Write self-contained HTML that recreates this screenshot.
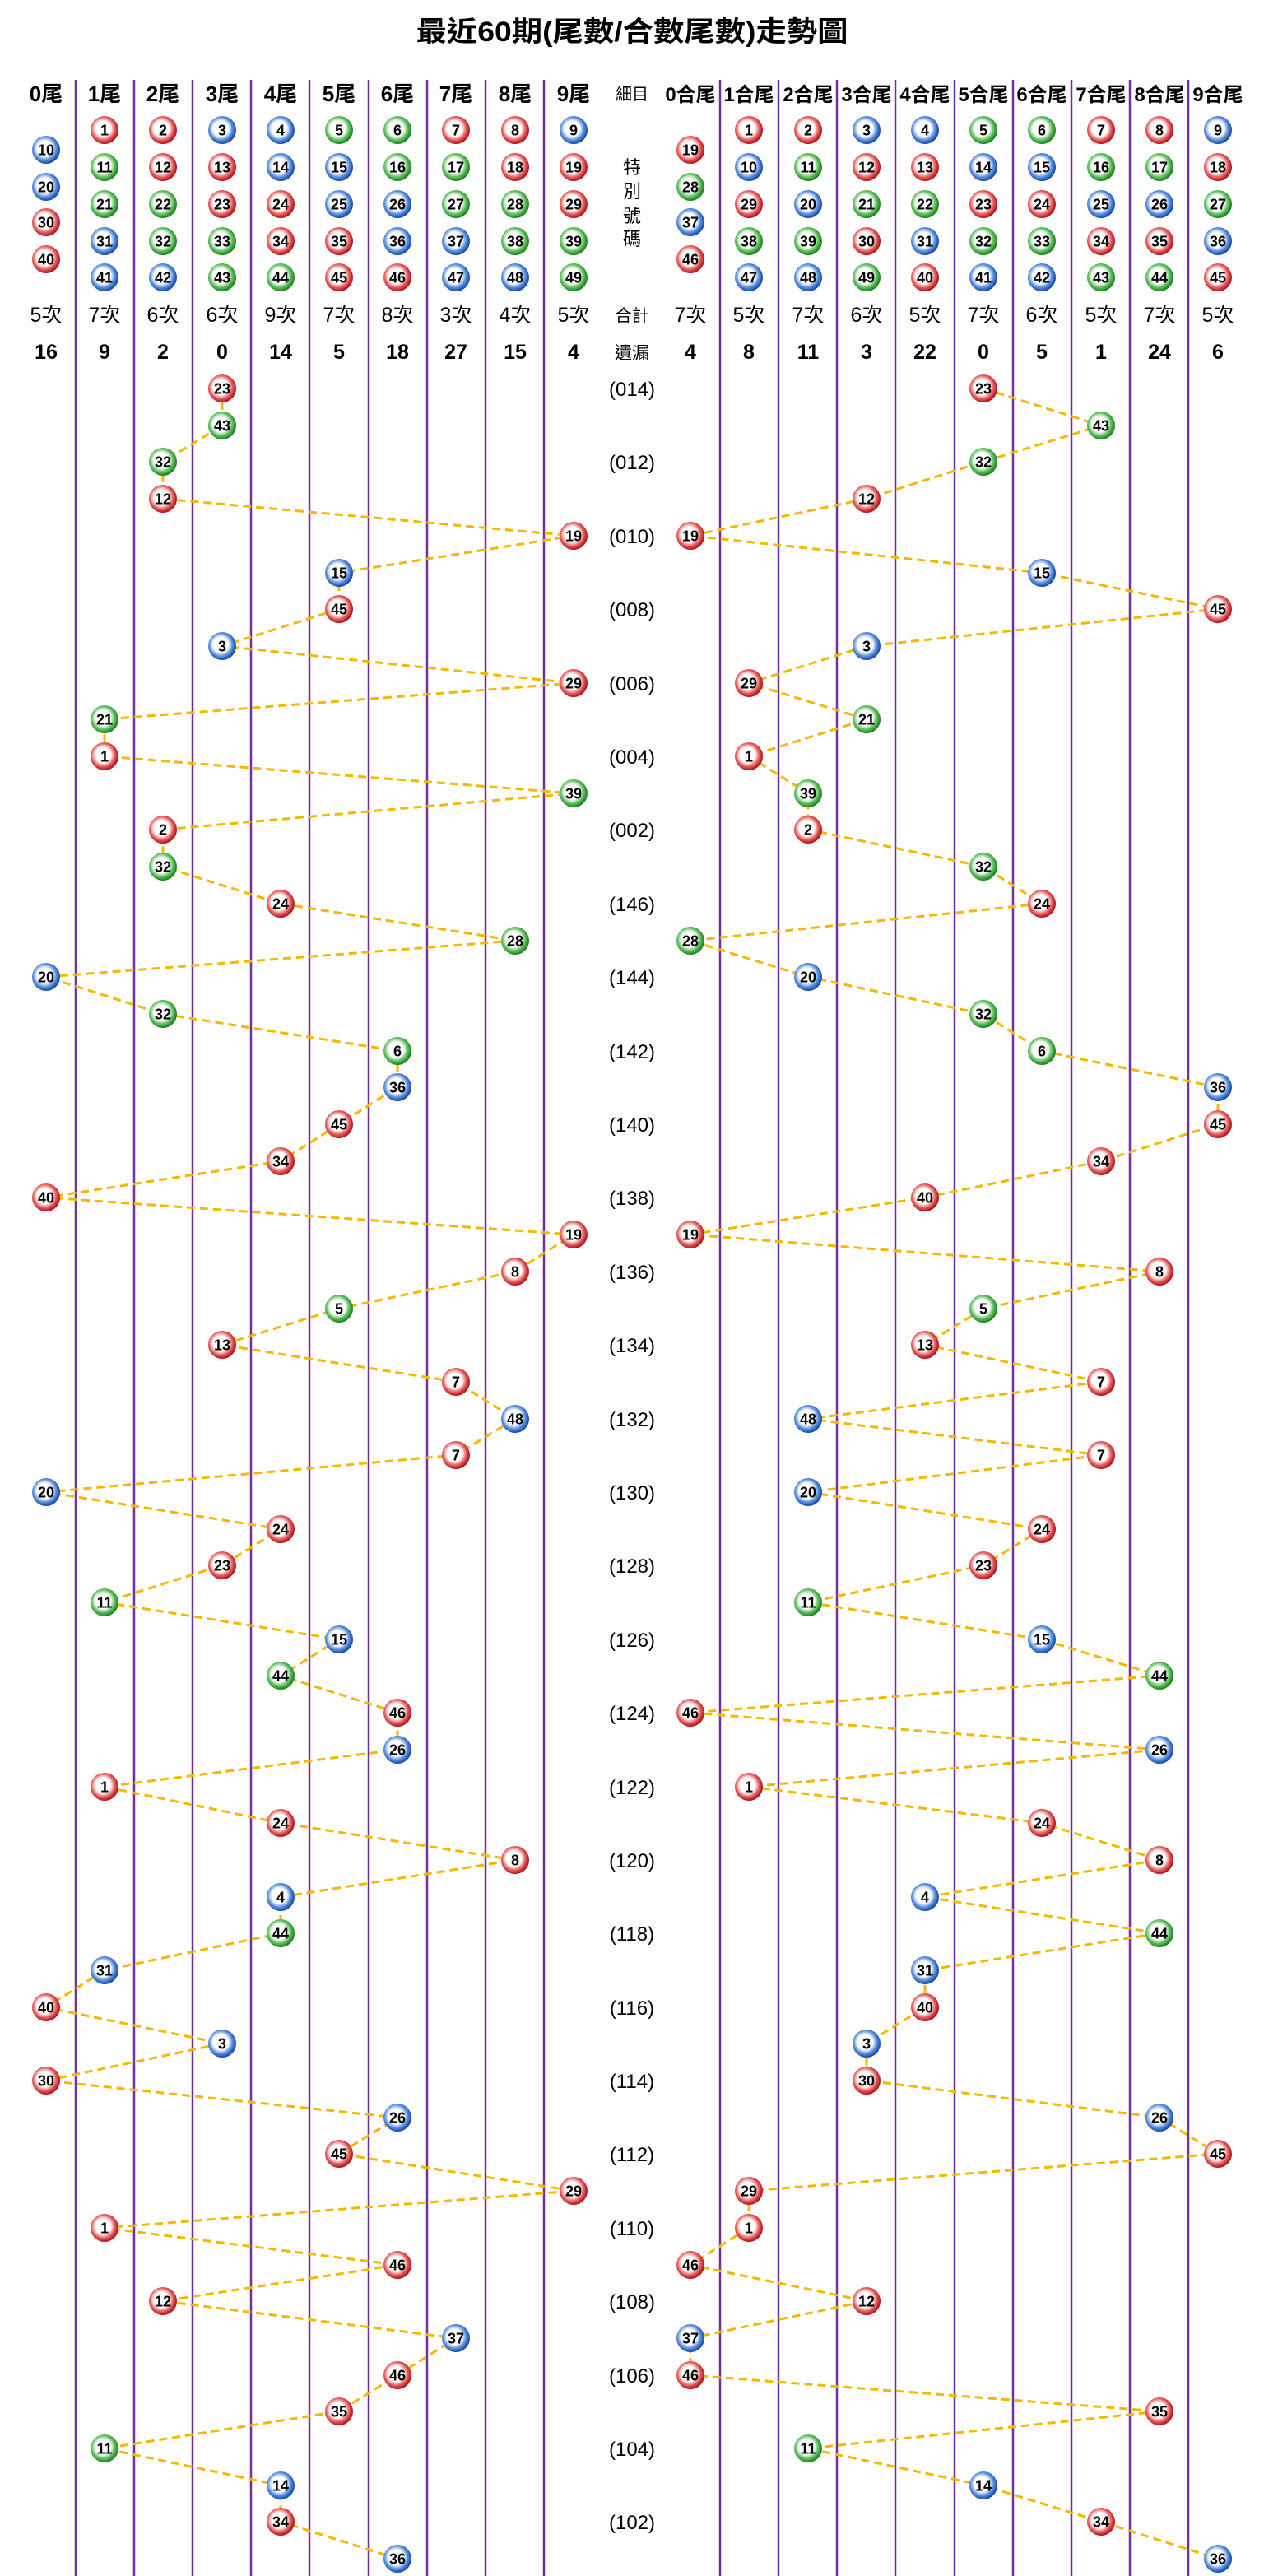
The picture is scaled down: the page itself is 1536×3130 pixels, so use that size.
<!DOCTYPE html>
<html><head><meta charset="utf-8"><style>
html,body{margin:0;padding:0;background:#fff}
svg{display:block}
.b text{font:bold 18px "Liberation Sans Narrow","Liberation Sans",sans-serif;text-anchor:middle;fill:#000}
.t{font-family:"Liberation Sans","Noto Sans CJK TC",sans-serif;text-anchor:middle;fill:#000}
</style></head><body>
<svg width="1536" height="3130" viewBox="0 0 1536 3130" xmlns="http://www.w3.org/2000/svg">
<defs>
<radialGradient id="R" cx="45%" cy="45%" r="55%"><stop offset="0" stop-color="#fff"/><stop offset="0.5" stop-color="#fff"/><stop offset="0.75" stop-color="#e86060"/><stop offset="1" stop-color="#b01018"/></radialGradient>
<radialGradient id="B" cx="45%" cy="45%" r="55%"><stop offset="0" stop-color="#fff"/><stop offset="0.5" stop-color="#fff"/><stop offset="0.75" stop-color="#5a90e0"/><stop offset="1" stop-color="#1548a8"/></radialGradient>
<radialGradient id="G" cx="45%" cy="45%" r="55%"><stop offset="0" stop-color="#fff"/><stop offset="0.5" stop-color="#fff"/><stop offset="0.75" stop-color="#60c060"/><stop offset="1" stop-color="#1a801a"/></radialGradient>
</defs>
<rect width="1536" height="3130" fill="#fff"/>
<g stroke="#7030a0" stroke-width="2.5">
<line x1="92" y1="97" x2="92" y2="3130"/><line x1="163" y1="97" x2="163" y2="3130"/><line x1="234" y1="97" x2="234" y2="3130"/><line x1="305" y1="97" x2="305" y2="3130"/><line x1="376" y1="97" x2="376" y2="3130"/><line x1="448" y1="97" x2="448" y2="3130"/><line x1="519" y1="97" x2="519" y2="3130"/><line x1="590" y1="97" x2="590" y2="3130"/><line x1="661" y1="97" x2="661" y2="3130"/>
<line x1="875" y1="97" x2="875" y2="3130"/><line x1="946" y1="97" x2="946" y2="3130"/><line x1="1017" y1="97" x2="1017" y2="3130"/><line x1="1088" y1="97" x2="1088" y2="3130"/><line x1="1160" y1="97" x2="1160" y2="3130"/><line x1="1231" y1="97" x2="1231" y2="3130"/><line x1="1302" y1="97" x2="1302" y2="3130"/><line x1="1373" y1="97" x2="1373" y2="3130"/><line x1="1444" y1="97" x2="1444" y2="3130"/>
</g>
<text class="t" x="768" y="50" font-size="34" font-weight="bold" textLength="525" lengthAdjust="spacingAndGlyphs">最近60期(尾數/合數尾數)走勢圖</text>
<g transform="translate(0 123)" font-weight="bold">
<text class="t" x="56" font-size="26">0尾</text><text class="t" x="127" font-size="26">1尾</text><text class="t" x="198" font-size="26">2尾</text><text class="t" x="270" font-size="26">3尾</text><text class="t" x="341" font-size="26">4尾</text><text class="t" x="412" font-size="26">5尾</text><text class="t" x="483" font-size="26">6尾</text><text class="t" x="554" font-size="26">7尾</text><text class="t" x="626" font-size="26">8尾</text><text class="t" x="697" font-size="26">9尾</text>
<text class="t" x="768" y="-2" font-size="20" font-weight="normal">細目</text>
<text class="t" x="839" font-size="24">0合尾</text><text class="t" x="910" font-size="24">1合尾</text><text class="t" x="982" font-size="24">2合尾</text><text class="t" x="1053" font-size="24">3合尾</text><text class="t" x="1124" font-size="24">4合尾</text><text class="t" x="1195" font-size="24">5合尾</text><text class="t" x="1266" font-size="24">6合尾</text><text class="t" x="1338" font-size="24">7合尾</text><text class="t" x="1409" font-size="24">8合尾</text><text class="t" x="1480" font-size="24">9合尾</text>
</g>
<g font-size="22"><text class="t" x="768" y="211">特</text><text class="t" x="768" y="240">別</text><text class="t" x="768" y="270">號</text><text class="t" x="768" y="298">碼</text></g>
<g transform="translate(0 391)" font-size="25">
<text class="t" x="56">5次</text><text class="t" x="127">7次</text><text class="t" x="198">6次</text><text class="t" x="270">6次</text><text class="t" x="341">9次</text><text class="t" x="412">7次</text><text class="t" x="483">8次</text><text class="t" x="554">3次</text><text class="t" x="626">4次</text><text class="t" x="697">5次</text>
<text class="t" x="768" font-size="21">合計</text>
<text class="t" x="839">7次</text><text class="t" x="910">5次</text><text class="t" x="982">7次</text><text class="t" x="1053">6次</text><text class="t" x="1124">5次</text><text class="t" x="1195">7次</text><text class="t" x="1266">6次</text><text class="t" x="1338">5次</text><text class="t" x="1409">7次</text><text class="t" x="1480">5次</text>
</g>
<g transform="translate(0 436)" font-size="25" font-weight="bold">
<text class="t" x="56">16</text><text class="t" x="127">9</text><text class="t" x="198">2</text><text class="t" x="270">0</text><text class="t" x="341">14</text><text class="t" x="412">5</text><text class="t" x="483">18</text><text class="t" x="554">27</text><text class="t" x="626">15</text><text class="t" x="697">4</text>
<text class="t" x="768" font-size="21" font-weight="normal">遺漏</text>
<text class="t" x="839">4</text><text class="t" x="910">8</text><text class="t" x="982">11</text><text class="t" x="1053">3</text><text class="t" x="1124">22</text><text class="t" x="1195">0</text><text class="t" x="1266">5</text><text class="t" x="1338">1</text><text class="t" x="1409">24</text><text class="t" x="1480">6</text>
</g>
<g font-size="24">
<text class="t" x="768" y="481">(014)</text><text class="t" x="768" y="570">(012)</text><text class="t" x="768" y="660">(010)</text><text class="t" x="768" y="749">(008)</text><text class="t" x="768" y="839">(006)</text><text class="t" x="768" y="928">(004)</text><text class="t" x="768" y="1017">(002)</text><text class="t" x="768" y="1107">(146)</text><text class="t" x="768" y="1196">(144)</text><text class="t" x="768" y="1286">(142)</text><text class="t" x="768" y="1375">(140)</text><text class="t" x="768" y="1464">(138)</text><text class="t" x="768" y="1554">(136)</text><text class="t" x="768" y="1643">(134)</text><text class="t" x="768" y="1733">(132)</text><text class="t" x="768" y="1822">(130)</text><text class="t" x="768" y="1911">(128)</text><text class="t" x="768" y="2001">(126)</text><text class="t" x="768" y="2090">(124)</text><text class="t" x="768" y="2180">(122)</text><text class="t" x="768" y="2269">(120)</text><text class="t" x="768" y="2358">(118)</text><text class="t" x="768" y="2448">(116)</text><text class="t" x="768" y="2537">(114)</text><text class="t" x="768" y="2626">(112)</text><text class="t" x="768" y="2716">(110)</text><text class="t" x="768" y="2805">(108)</text><text class="t" x="768" y="2895">(106)</text><text class="t" x="768" y="2984">(104)</text><text class="t" x="768" y="3073">(102)</text>
</g>
<g fill="none" stroke="#f5b800" stroke-width="3" stroke-dasharray="10 6">
<polyline points="270,472 270,517 198,561 198,606 697,651 412,696 412,740 270,785 697,830 127,874 127,919 697,964 198,1008 198,1053 341,1098 626,1143 56,1187 198,1232 483,1277 483,1321 412,1366 341,1411 56,1455 697,1500 626,1545 412,1590 270,1634 554,1679 626,1724 554,1768 56,1813 341,1858 270,1902 127,1947 412,1992 341,2036 483,2081 483,2126 127,2171 341,2215 626,2260 341,2305 341,2349 127,2394 56,2439 270,2483 56,2528 483,2573 412,2617 697,2662 127,2707 483,2752 198,2796 554,2841 483,2886 412,2930 127,2975 341,3020 341,3064 483,3109"/>
<polyline points="1195,472 1338,517 1195,561 1053,606 839,651 1266,696 1480,740 1053,785 910,830 1053,874 910,919 982,964 982,1008 1195,1053 1266,1098 839,1143 982,1187 1195,1232 1266,1277 1480,1321 1480,1366 1338,1411 1124,1455 839,1500 1409,1545 1195,1590 1124,1634 1338,1679 982,1724 1338,1768 982,1813 1266,1858 1195,1902 982,1947 1266,1992 1409,2036 839,2081 1409,2126 910,2171 1266,2215 1409,2260 1124,2305 1409,2349 1124,2394 1124,2439 1053,2483 1053,2528 1409,2573 1480,2617 910,2662 910,2707 839,2752 1053,2796 839,2841 839,2886 1409,2930 982,2975 1195,3020 1338,3064 1480,3109"/>
</g>
<!-- header balls left -->
<g class="b" transform="translate(56 182)"><circle r="17" fill="url(#B)"/><text y="6.5">10</text></g>
<g class="b" transform="translate(56 227)"><circle r="17" fill="url(#B)"/><text y="6.5">20</text></g>
<g class="b" transform="translate(56 270)"><circle r="17" fill="url(#R)"/><text y="6.5">30</text></g>
<g class="b" transform="translate(56 315)"><circle r="17" fill="url(#R)"/><text y="6.5">40</text></g>
<g class="b" transform="translate(127 158)"><circle r="17" fill="url(#R)"/><text y="6.5">1</text></g>
<g class="b" transform="translate(127 203)"><circle r="17" fill="url(#G)"/><text y="6.5">11</text></g>
<g class="b" transform="translate(127 248)"><circle r="17" fill="url(#G)"/><text y="6.5">21</text></g>
<g class="b" transform="translate(127 293)"><circle r="17" fill="url(#B)"/><text y="6.5">31</text></g>
<g class="b" transform="translate(127 337)"><circle r="17" fill="url(#B)"/><text y="6.5">41</text></g>
<g class="b" transform="translate(198 158)"><circle r="17" fill="url(#R)"/><text y="6.5">2</text></g>
<g class="b" transform="translate(198 203)"><circle r="17" fill="url(#R)"/><text y="6.5">12</text></g>
<g class="b" transform="translate(198 248)"><circle r="17" fill="url(#G)"/><text y="6.5">22</text></g>
<g class="b" transform="translate(198 293)"><circle r="17" fill="url(#G)"/><text y="6.5">32</text></g>
<g class="b" transform="translate(198 337)"><circle r="17" fill="url(#B)"/><text y="6.5">42</text></g>
<g class="b" transform="translate(270 158)"><circle r="17" fill="url(#B)"/><text y="6.5">3</text></g>
<g class="b" transform="translate(270 203)"><circle r="17" fill="url(#R)"/><text y="6.5">13</text></g>
<g class="b" transform="translate(270 248)"><circle r="17" fill="url(#R)"/><text y="6.5">23</text></g>
<g class="b" transform="translate(270 293)"><circle r="17" fill="url(#G)"/><text y="6.5">33</text></g>
<g class="b" transform="translate(270 337)"><circle r="17" fill="url(#G)"/><text y="6.5">43</text></g>
<g class="b" transform="translate(341 158)"><circle r="17" fill="url(#B)"/><text y="6.5">4</text></g>
<g class="b" transform="translate(341 203)"><circle r="17" fill="url(#B)"/><text y="6.5">14</text></g>
<g class="b" transform="translate(341 248)"><circle r="17" fill="url(#R)"/><text y="6.5">24</text></g>
<g class="b" transform="translate(341 293)"><circle r="17" fill="url(#R)"/><text y="6.5">34</text></g>
<g class="b" transform="translate(341 337)"><circle r="17" fill="url(#G)"/><text y="6.5">44</text></g>
<g class="b" transform="translate(412 158)"><circle r="17" fill="url(#G)"/><text y="6.5">5</text></g>
<g class="b" transform="translate(412 203)"><circle r="17" fill="url(#B)"/><text y="6.5">15</text></g>
<g class="b" transform="translate(412 248)"><circle r="17" fill="url(#B)"/><text y="6.5">25</text></g>
<g class="b" transform="translate(412 293)"><circle r="17" fill="url(#R)"/><text y="6.5">35</text></g>
<g class="b" transform="translate(412 337)"><circle r="17" fill="url(#R)"/><text y="6.5">45</text></g>
<g class="b" transform="translate(483 158)"><circle r="17" fill="url(#G)"/><text y="6.5">6</text></g>
<g class="b" transform="translate(483 203)"><circle r="17" fill="url(#G)"/><text y="6.5">16</text></g>
<g class="b" transform="translate(483 248)"><circle r="17" fill="url(#B)"/><text y="6.5">26</text></g>
<g class="b" transform="translate(483 293)"><circle r="17" fill="url(#B)"/><text y="6.5">36</text></g>
<g class="b" transform="translate(483 337)"><circle r="17" fill="url(#R)"/><text y="6.5">46</text></g>
<g class="b" transform="translate(554 158)"><circle r="17" fill="url(#R)"/><text y="6.5">7</text></g>
<g class="b" transform="translate(554 203)"><circle r="17" fill="url(#G)"/><text y="6.5">17</text></g>
<g class="b" transform="translate(554 248)"><circle r="17" fill="url(#G)"/><text y="6.5">27</text></g>
<g class="b" transform="translate(554 293)"><circle r="17" fill="url(#B)"/><text y="6.5">37</text></g>
<g class="b" transform="translate(554 337)"><circle r="17" fill="url(#B)"/><text y="6.5">47</text></g>
<g class="b" transform="translate(626 158)"><circle r="17" fill="url(#R)"/><text y="6.5">8</text></g>
<g class="b" transform="translate(626 203)"><circle r="17" fill="url(#R)"/><text y="6.5">18</text></g>
<g class="b" transform="translate(626 248)"><circle r="17" fill="url(#G)"/><text y="6.5">28</text></g>
<g class="b" transform="translate(626 293)"><circle r="17" fill="url(#G)"/><text y="6.5">38</text></g>
<g class="b" transform="translate(626 337)"><circle r="17" fill="url(#B)"/><text y="6.5">48</text></g>
<g class="b" transform="translate(697 158)"><circle r="17" fill="url(#B)"/><text y="6.5">9</text></g>
<g class="b" transform="translate(697 203)"><circle r="17" fill="url(#R)"/><text y="6.5">19</text></g>
<g class="b" transform="translate(697 248)"><circle r="17" fill="url(#R)"/><text y="6.5">29</text></g>
<g class="b" transform="translate(697 293)"><circle r="17" fill="url(#G)"/><text y="6.5">39</text></g>
<g class="b" transform="translate(697 337)"><circle r="17" fill="url(#G)"/><text y="6.5">49</text></g>
<!-- header balls right -->
<g class="b" transform="translate(839 182)"><circle r="17" fill="url(#R)"/><text y="6.5">19</text></g>
<g class="b" transform="translate(839 227)"><circle r="17" fill="url(#G)"/><text y="6.5">28</text></g>
<g class="b" transform="translate(839 270)"><circle r="17" fill="url(#B)"/><text y="6.5">37</text></g>
<g class="b" transform="translate(839 315)"><circle r="17" fill="url(#R)"/><text y="6.5">46</text></g>
<g class="b" transform="translate(910 158)"><circle r="17" fill="url(#R)"/><text y="6.5">1</text></g>
<g class="b" transform="translate(910 203)"><circle r="17" fill="url(#B)"/><text y="6.5">10</text></g>
<g class="b" transform="translate(910 248)"><circle r="17" fill="url(#R)"/><text y="6.5">29</text></g>
<g class="b" transform="translate(910 293)"><circle r="17" fill="url(#G)"/><text y="6.5">38</text></g>
<g class="b" transform="translate(910 337)"><circle r="17" fill="url(#B)"/><text y="6.5">47</text></g>
<g class="b" transform="translate(982 158)"><circle r="17" fill="url(#R)"/><text y="6.5">2</text></g>
<g class="b" transform="translate(982 203)"><circle r="17" fill="url(#G)"/><text y="6.5">11</text></g>
<g class="b" transform="translate(982 248)"><circle r="17" fill="url(#B)"/><text y="6.5">20</text></g>
<g class="b" transform="translate(982 293)"><circle r="17" fill="url(#G)"/><text y="6.5">39</text></g>
<g class="b" transform="translate(982 337)"><circle r="17" fill="url(#B)"/><text y="6.5">48</text></g>
<g class="b" transform="translate(1053 158)"><circle r="17" fill="url(#B)"/><text y="6.5">3</text></g>
<g class="b" transform="translate(1053 203)"><circle r="17" fill="url(#R)"/><text y="6.5">12</text></g>
<g class="b" transform="translate(1053 248)"><circle r="17" fill="url(#G)"/><text y="6.5">21</text></g>
<g class="b" transform="translate(1053 293)"><circle r="17" fill="url(#R)"/><text y="6.5">30</text></g>
<g class="b" transform="translate(1053 337)"><circle r="17" fill="url(#G)"/><text y="6.5">49</text></g>
<g class="b" transform="translate(1124 158)"><circle r="17" fill="url(#B)"/><text y="6.5">4</text></g>
<g class="b" transform="translate(1124 203)"><circle r="17" fill="url(#R)"/><text y="6.5">13</text></g>
<g class="b" transform="translate(1124 248)"><circle r="17" fill="url(#G)"/><text y="6.5">22</text></g>
<g class="b" transform="translate(1124 293)"><circle r="17" fill="url(#B)"/><text y="6.5">31</text></g>
<g class="b" transform="translate(1124 337)"><circle r="17" fill="url(#R)"/><text y="6.5">40</text></g>
<g class="b" transform="translate(1195 158)"><circle r="17" fill="url(#G)"/><text y="6.5">5</text></g>
<g class="b" transform="translate(1195 203)"><circle r="17" fill="url(#B)"/><text y="6.5">14</text></g>
<g class="b" transform="translate(1195 248)"><circle r="17" fill="url(#R)"/><text y="6.5">23</text></g>
<g class="b" transform="translate(1195 293)"><circle r="17" fill="url(#G)"/><text y="6.5">32</text></g>
<g class="b" transform="translate(1195 337)"><circle r="17" fill="url(#B)"/><text y="6.5">41</text></g>
<g class="b" transform="translate(1266 158)"><circle r="17" fill="url(#G)"/><text y="6.5">6</text></g>
<g class="b" transform="translate(1266 203)"><circle r="17" fill="url(#B)"/><text y="6.5">15</text></g>
<g class="b" transform="translate(1266 248)"><circle r="17" fill="url(#R)"/><text y="6.5">24</text></g>
<g class="b" transform="translate(1266 293)"><circle r="17" fill="url(#G)"/><text y="6.5">33</text></g>
<g class="b" transform="translate(1266 337)"><circle r="17" fill="url(#B)"/><text y="6.5">42</text></g>
<g class="b" transform="translate(1338 158)"><circle r="17" fill="url(#R)"/><text y="6.5">7</text></g>
<g class="b" transform="translate(1338 203)"><circle r="17" fill="url(#G)"/><text y="6.5">16</text></g>
<g class="b" transform="translate(1338 248)"><circle r="17" fill="url(#B)"/><text y="6.5">25</text></g>
<g class="b" transform="translate(1338 293)"><circle r="17" fill="url(#R)"/><text y="6.5">34</text></g>
<g class="b" transform="translate(1338 337)"><circle r="17" fill="url(#G)"/><text y="6.5">43</text></g>
<g class="b" transform="translate(1409 158)"><circle r="17" fill="url(#R)"/><text y="6.5">8</text></g>
<g class="b" transform="translate(1409 203)"><circle r="17" fill="url(#G)"/><text y="6.5">17</text></g>
<g class="b" transform="translate(1409 248)"><circle r="17" fill="url(#B)"/><text y="6.5">26</text></g>
<g class="b" transform="translate(1409 293)"><circle r="17" fill="url(#R)"/><text y="6.5">35</text></g>
<g class="b" transform="translate(1409 337)"><circle r="17" fill="url(#G)"/><text y="6.5">44</text></g>
<g class="b" transform="translate(1480 158)"><circle r="17" fill="url(#B)"/><text y="6.5">9</text></g>
<g class="b" transform="translate(1480 203)"><circle r="17" fill="url(#R)"/><text y="6.5">18</text></g>
<g class="b" transform="translate(1480 248)"><circle r="17" fill="url(#G)"/><text y="6.5">27</text></g>
<g class="b" transform="translate(1480 293)"><circle r="17" fill="url(#B)"/><text y="6.5">36</text></g>
<g class="b" transform="translate(1480 337)"><circle r="17" fill="url(#R)"/><text y="6.5">45</text></g>
<!-- data rows -->
<g class="b" transform="translate(270 472)"><circle r="17" fill="url(#R)"/><text y="6.5">23</text></g><g class="b" transform="translate(1195 472)"><circle r="17" fill="url(#R)"/><text y="6.5">23</text></g>
<g class="b" transform="translate(270 517)"><circle r="17" fill="url(#G)"/><text y="6.5">43</text></g><g class="b" transform="translate(1338 517)"><circle r="17" fill="url(#G)"/><text y="6.5">43</text></g>
<g class="b" transform="translate(198 561)"><circle r="17" fill="url(#G)"/><text y="6.5">32</text></g><g class="b" transform="translate(1195 561)"><circle r="17" fill="url(#G)"/><text y="6.5">32</text></g>
<g class="b" transform="translate(198 606)"><circle r="17" fill="url(#R)"/><text y="6.5">12</text></g><g class="b" transform="translate(1053 606)"><circle r="17" fill="url(#R)"/><text y="6.5">12</text></g>
<g class="b" transform="translate(697 651)"><circle r="17" fill="url(#R)"/><text y="6.5">19</text></g><g class="b" transform="translate(839 651)"><circle r="17" fill="url(#R)"/><text y="6.5">19</text></g>
<g class="b" transform="translate(412 696)"><circle r="17" fill="url(#B)"/><text y="6.5">15</text></g><g class="b" transform="translate(1266 696)"><circle r="17" fill="url(#B)"/><text y="6.5">15</text></g>
<g class="b" transform="translate(412 740)"><circle r="17" fill="url(#R)"/><text y="6.5">45</text></g><g class="b" transform="translate(1480 740)"><circle r="17" fill="url(#R)"/><text y="6.5">45</text></g>
<g class="b" transform="translate(270 785)"><circle r="17" fill="url(#B)"/><text y="6.5">3</text></g><g class="b" transform="translate(1053 785)"><circle r="17" fill="url(#B)"/><text y="6.5">3</text></g>
<g class="b" transform="translate(697 830)"><circle r="17" fill="url(#R)"/><text y="6.5">29</text></g><g class="b" transform="translate(910 830)"><circle r="17" fill="url(#R)"/><text y="6.5">29</text></g>
<g class="b" transform="translate(127 874)"><circle r="17" fill="url(#G)"/><text y="6.5">21</text></g><g class="b" transform="translate(1053 874)"><circle r="17" fill="url(#G)"/><text y="6.5">21</text></g>
<g class="b" transform="translate(127 919)"><circle r="17" fill="url(#R)"/><text y="6.5">1</text></g><g class="b" transform="translate(910 919)"><circle r="17" fill="url(#R)"/><text y="6.5">1</text></g>
<g class="b" transform="translate(697 964)"><circle r="17" fill="url(#G)"/><text y="6.5">39</text></g><g class="b" transform="translate(982 964)"><circle r="17" fill="url(#G)"/><text y="6.5">39</text></g>
<g class="b" transform="translate(198 1008)"><circle r="17" fill="url(#R)"/><text y="6.5">2</text></g><g class="b" transform="translate(982 1008)"><circle r="17" fill="url(#R)"/><text y="6.5">2</text></g>
<g class="b" transform="translate(198 1053)"><circle r="17" fill="url(#G)"/><text y="6.5">32</text></g><g class="b" transform="translate(1195 1053)"><circle r="17" fill="url(#G)"/><text y="6.5">32</text></g>
<g class="b" transform="translate(341 1098)"><circle r="17" fill="url(#R)"/><text y="6.5">24</text></g><g class="b" transform="translate(1266 1098)"><circle r="17" fill="url(#R)"/><text y="6.5">24</text></g>
<g class="b" transform="translate(626 1143)"><circle r="17" fill="url(#G)"/><text y="6.5">28</text></g><g class="b" transform="translate(839 1143)"><circle r="17" fill="url(#G)"/><text y="6.5">28</text></g>
<g class="b" transform="translate(56 1187)"><circle r="17" fill="url(#B)"/><text y="6.5">20</text></g><g class="b" transform="translate(982 1187)"><circle r="17" fill="url(#B)"/><text y="6.5">20</text></g>
<g class="b" transform="translate(198 1232)"><circle r="17" fill="url(#G)"/><text y="6.5">32</text></g><g class="b" transform="translate(1195 1232)"><circle r="17" fill="url(#G)"/><text y="6.5">32</text></g>
<g class="b" transform="translate(483 1277)"><circle r="17" fill="url(#G)"/><text y="6.5">6</text></g><g class="b" transform="translate(1266 1277)"><circle r="17" fill="url(#G)"/><text y="6.5">6</text></g>
<g class="b" transform="translate(483 1321)"><circle r="17" fill="url(#B)"/><text y="6.5">36</text></g><g class="b" transform="translate(1480 1321)"><circle r="17" fill="url(#B)"/><text y="6.5">36</text></g>
<g class="b" transform="translate(412 1366)"><circle r="17" fill="url(#R)"/><text y="6.5">45</text></g><g class="b" transform="translate(1480 1366)"><circle r="17" fill="url(#R)"/><text y="6.5">45</text></g>
<g class="b" transform="translate(341 1411)"><circle r="17" fill="url(#R)"/><text y="6.5">34</text></g><g class="b" transform="translate(1338 1411)"><circle r="17" fill="url(#R)"/><text y="6.5">34</text></g>
<g class="b" transform="translate(56 1455)"><circle r="17" fill="url(#R)"/><text y="6.5">40</text></g><g class="b" transform="translate(1124 1455)"><circle r="17" fill="url(#R)"/><text y="6.5">40</text></g>
<g class="b" transform="translate(697 1500)"><circle r="17" fill="url(#R)"/><text y="6.5">19</text></g><g class="b" transform="translate(839 1500)"><circle r="17" fill="url(#R)"/><text y="6.5">19</text></g>
<g class="b" transform="translate(626 1545)"><circle r="17" fill="url(#R)"/><text y="6.5">8</text></g><g class="b" transform="translate(1409 1545)"><circle r="17" fill="url(#R)"/><text y="6.5">8</text></g>
<g class="b" transform="translate(412 1590)"><circle r="17" fill="url(#G)"/><text y="6.5">5</text></g><g class="b" transform="translate(1195 1590)"><circle r="17" fill="url(#G)"/><text y="6.5">5</text></g>
<g class="b" transform="translate(270 1634)"><circle r="17" fill="url(#R)"/><text y="6.5">13</text></g><g class="b" transform="translate(1124 1634)"><circle r="17" fill="url(#R)"/><text y="6.5">13</text></g>
<g class="b" transform="translate(554 1679)"><circle r="17" fill="url(#R)"/><text y="6.5">7</text></g><g class="b" transform="translate(1338 1679)"><circle r="17" fill="url(#R)"/><text y="6.5">7</text></g>
<g class="b" transform="translate(626 1724)"><circle r="17" fill="url(#B)"/><text y="6.5">48</text></g><g class="b" transform="translate(982 1724)"><circle r="17" fill="url(#B)"/><text y="6.5">48</text></g>
<g class="b" transform="translate(554 1768)"><circle r="17" fill="url(#R)"/><text y="6.5">7</text></g><g class="b" transform="translate(1338 1768)"><circle r="17" fill="url(#R)"/><text y="6.5">7</text></g>
<g class="b" transform="translate(56 1813)"><circle r="17" fill="url(#B)"/><text y="6.5">20</text></g><g class="b" transform="translate(982 1813)"><circle r="17" fill="url(#B)"/><text y="6.5">20</text></g>
<g class="b" transform="translate(341 1858)"><circle r="17" fill="url(#R)"/><text y="6.5">24</text></g><g class="b" transform="translate(1266 1858)"><circle r="17" fill="url(#R)"/><text y="6.5">24</text></g>
<g class="b" transform="translate(270 1902)"><circle r="17" fill="url(#R)"/><text y="6.5">23</text></g><g class="b" transform="translate(1195 1902)"><circle r="17" fill="url(#R)"/><text y="6.5">23</text></g>
<g class="b" transform="translate(127 1947)"><circle r="17" fill="url(#G)"/><text y="6.5">11</text></g><g class="b" transform="translate(982 1947)"><circle r="17" fill="url(#G)"/><text y="6.5">11</text></g>
<g class="b" transform="translate(412 1992)"><circle r="17" fill="url(#B)"/><text y="6.5">15</text></g><g class="b" transform="translate(1266 1992)"><circle r="17" fill="url(#B)"/><text y="6.5">15</text></g>
<g class="b" transform="translate(341 2036)"><circle r="17" fill="url(#G)"/><text y="6.5">44</text></g><g class="b" transform="translate(1409 2036)"><circle r="17" fill="url(#G)"/><text y="6.5">44</text></g>
<g class="b" transform="translate(483 2081)"><circle r="17" fill="url(#R)"/><text y="6.5">46</text></g><g class="b" transform="translate(839 2081)"><circle r="17" fill="url(#R)"/><text y="6.5">46</text></g>
<g class="b" transform="translate(483 2126)"><circle r="17" fill="url(#B)"/><text y="6.5">26</text></g><g class="b" transform="translate(1409 2126)"><circle r="17" fill="url(#B)"/><text y="6.5">26</text></g>
<g class="b" transform="translate(127 2171)"><circle r="17" fill="url(#R)"/><text y="6.5">1</text></g><g class="b" transform="translate(910 2171)"><circle r="17" fill="url(#R)"/><text y="6.5">1</text></g>
<g class="b" transform="translate(341 2215)"><circle r="17" fill="url(#R)"/><text y="6.5">24</text></g><g class="b" transform="translate(1266 2215)"><circle r="17" fill="url(#R)"/><text y="6.5">24</text></g>
<g class="b" transform="translate(626 2260)"><circle r="17" fill="url(#R)"/><text y="6.5">8</text></g><g class="b" transform="translate(1409 2260)"><circle r="17" fill="url(#R)"/><text y="6.5">8</text></g>
<g class="b" transform="translate(341 2305)"><circle r="17" fill="url(#B)"/><text y="6.5">4</text></g><g class="b" transform="translate(1124 2305)"><circle r="17" fill="url(#B)"/><text y="6.5">4</text></g>
<g class="b" transform="translate(341 2349)"><circle r="17" fill="url(#G)"/><text y="6.5">44</text></g><g class="b" transform="translate(1409 2349)"><circle r="17" fill="url(#G)"/><text y="6.5">44</text></g>
<g class="b" transform="translate(127 2394)"><circle r="17" fill="url(#B)"/><text y="6.5">31</text></g><g class="b" transform="translate(1124 2394)"><circle r="17" fill="url(#B)"/><text y="6.5">31</text></g>
<g class="b" transform="translate(56 2439)"><circle r="17" fill="url(#R)"/><text y="6.5">40</text></g><g class="b" transform="translate(1124 2439)"><circle r="17" fill="url(#R)"/><text y="6.5">40</text></g>
<g class="b" transform="translate(270 2483)"><circle r="17" fill="url(#B)"/><text y="6.5">3</text></g><g class="b" transform="translate(1053 2483)"><circle r="17" fill="url(#B)"/><text y="6.5">3</text></g>
<g class="b" transform="translate(56 2528)"><circle r="17" fill="url(#R)"/><text y="6.5">30</text></g><g class="b" transform="translate(1053 2528)"><circle r="17" fill="url(#R)"/><text y="6.5">30</text></g>
<g class="b" transform="translate(483 2573)"><circle r="17" fill="url(#B)"/><text y="6.5">26</text></g><g class="b" transform="translate(1409 2573)"><circle r="17" fill="url(#B)"/><text y="6.5">26</text></g>
<g class="b" transform="translate(412 2617)"><circle r="17" fill="url(#R)"/><text y="6.5">45</text></g><g class="b" transform="translate(1480 2617)"><circle r="17" fill="url(#R)"/><text y="6.5">45</text></g>
<g class="b" transform="translate(697 2662)"><circle r="17" fill="url(#R)"/><text y="6.5">29</text></g><g class="b" transform="translate(910 2662)"><circle r="17" fill="url(#R)"/><text y="6.5">29</text></g>
<g class="b" transform="translate(127 2707)"><circle r="17" fill="url(#R)"/><text y="6.5">1</text></g><g class="b" transform="translate(910 2707)"><circle r="17" fill="url(#R)"/><text y="6.5">1</text></g>
<g class="b" transform="translate(483 2752)"><circle r="17" fill="url(#R)"/><text y="6.5">46</text></g><g class="b" transform="translate(839 2752)"><circle r="17" fill="url(#R)"/><text y="6.5">46</text></g>
<g class="b" transform="translate(198 2796)"><circle r="17" fill="url(#R)"/><text y="6.5">12</text></g><g class="b" transform="translate(1053 2796)"><circle r="17" fill="url(#R)"/><text y="6.5">12</text></g>
<g class="b" transform="translate(554 2841)"><circle r="17" fill="url(#B)"/><text y="6.5">37</text></g><g class="b" transform="translate(839 2841)"><circle r="17" fill="url(#B)"/><text y="6.5">37</text></g>
<g class="b" transform="translate(483 2886)"><circle r="17" fill="url(#R)"/><text y="6.5">46</text></g><g class="b" transform="translate(839 2886)"><circle r="17" fill="url(#R)"/><text y="6.5">46</text></g>
<g class="b" transform="translate(412 2930)"><circle r="17" fill="url(#R)"/><text y="6.5">35</text></g><g class="b" transform="translate(1409 2930)"><circle r="17" fill="url(#R)"/><text y="6.5">35</text></g>
<g class="b" transform="translate(127 2975)"><circle r="17" fill="url(#G)"/><text y="6.5">11</text></g><g class="b" transform="translate(982 2975)"><circle r="17" fill="url(#G)"/><text y="6.5">11</text></g>
<g class="b" transform="translate(341 3020)"><circle r="17" fill="url(#B)"/><text y="6.5">14</text></g><g class="b" transform="translate(1195 3020)"><circle r="17" fill="url(#B)"/><text y="6.5">14</text></g>
<g class="b" transform="translate(341 3064)"><circle r="17" fill="url(#R)"/><text y="6.5">34</text></g><g class="b" transform="translate(1338 3064)"><circle r="17" fill="url(#R)"/><text y="6.5">34</text></g>
<g class="b" transform="translate(483 3109)"><circle r="17" fill="url(#B)"/><text y="6.5">36</text></g><g class="b" transform="translate(1480 3109)"><circle r="17" fill="url(#B)"/><text y="6.5">36</text></g>
</svg>
</body></html>
